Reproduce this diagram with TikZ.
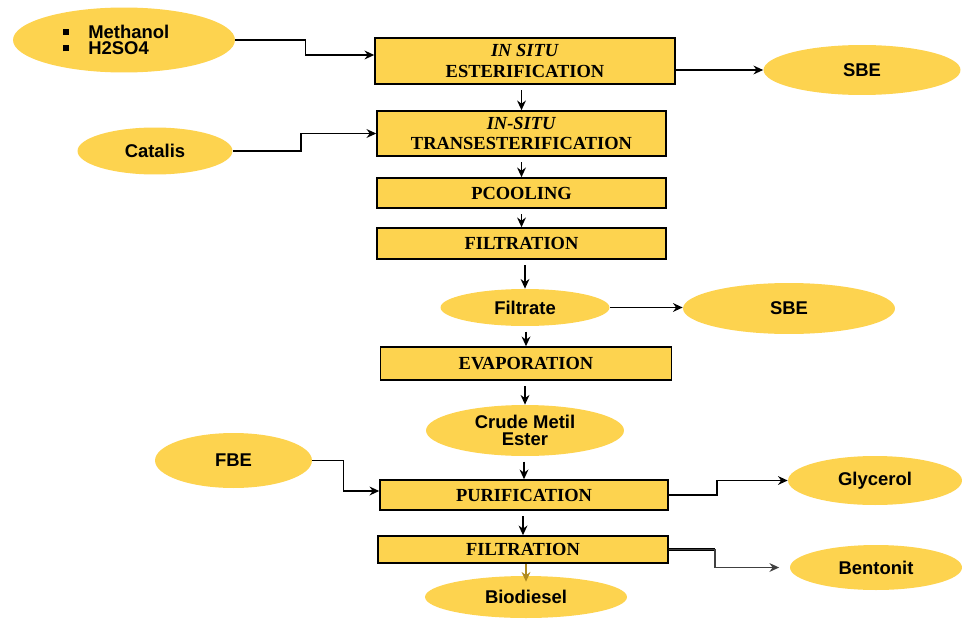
\documentclass[tikz,border=0pt]{standalone}
\usepackage{fontspec}
\setmainfont{Liberation Serif}
\newfontfamily\arialfont{Liberation Sans}
\usetikzlibrary{calc, arrows.meta, shapes.geometric}
\definecolor{flowyellow}{HTML}{FDD34F}
\definecolor{tipgold}{HTML}{B08A1E}
\tikzset{
	line width = .9pt,
	>={Stealth[length=5.5pt,width=5pt]},
	process/.style={
		draw,
		rectangle,
		fill=flowyellow,
		line width=.9pt,
		inner sep=0pt,
		align=center,
		font=\fontsize{10.5}{11.5}\selectfont\bfseries
	},
	stream/.style={
		ellipse,
		fill=flowyellow,
		inner sep=0pt,
		align=center,
		font=\arialfont\fontsize{10.5}{10}\selectfont\bfseries
	},
	flow/.style={
		->,
		line width=.9pt
	},
	heavy flow/.style={
		->,
		line width=1.4pt
	}
}

\begin{document}
\begin{tikzpicture}[x=0.02cm, y=-0.02cm]
\useasboundingbox (0,0) rectangle (962,618);

% ---
% Main line
% ---
\node[process, minimum width=6cm, minimum height=.92cm] (ester) at (525,61) {\textit{IN SITU}\\ESTERIFICATION};
\node[process, minimum width=5.78cm, minimum height=.9cm] (trans) at (521.5,133.5) {\textit{IN-SITU}\\TRANSESTERIFICATION};
\node[process, minimum width=5.78cm, minimum height=.6cm] (cool) at (521.5,193) {PCOOLING};
\node[process, minimum width=5.78cm, minimum height=.62cm] (filt1) at (521.5,243.5) {FILTRATION};
\node[stream, minimum width=3.38cm, minimum height=.74cm] (filtrate) at (525,307.5) {Filtrate};
\node[process, minimum width=5.82cm, minimum height=.66cm] (evap) at (526,363.5) {EVAPORATION};
\node[stream, minimum width=3.96cm, minimum height=1.02cm] (crude) at (525,430.5) {Crude Metil\\Ester};
\node[process, minimum width=5.76cm, minimum height=.6cm] (puri) at (524,495) {PURIFICATION};
\node[process, minimum width=5.8cm, minimum height=.54cm] (filt2) at (523,549.5) {FILTRATION};
\node[stream, minimum width=4.04cm, minimum height=.84cm] (bio) at (526,597) {Biodiesel};

% ---
% Inputs and outputs
% ---
\node[stream, align=left, minimum width=4.44cm, minimum height=1.3cm] (meoh) at (124,40) {\rule[2pt]{3.5pt}{3.5pt}\hspace{11pt}Methanol\rule{9pt}{0pt}\\[-.5pt]\rule[2pt]{3.5pt}{3.5pt}\hspace{11pt}H2SO4};
\node[stream, minimum width=3.94cm, minimum height=1cm] (sbe1) at (862,70) {SBE};
\node[stream, minimum width=3.1cm, minimum height=.94cm] (catalis) at (155,151) {Catalis};
\node[stream, minimum width=4.24cm, minimum height=1.02cm] (sbe2) at (789,308.5) {SBE};
\node[stream, minimum width=3.14cm, minimum height=1.1cm] (fbe) at (233.5,460.5) {FBE};
\node[stream, minimum width=3.48cm, minimum height=.98cm] (glyc) at (875,480.5) {Glycerol};
\node[stream, minimum width=3.44cm, minimum height=.9cm] (bent) at (876,567.5) {Bentonit};

% ---
% Transitions
% ---
\foreach \a/\b in {ester/trans, trans/cool, cool/filt1, filt1/filtrate, filtrate/evap, evap/crude, crude/puri, puri/filt2} {
	\draw[flow, shorten <=3pt] (\a.south -| \b.north) -- (\b.north);
}
\draw[flow, tipgold] (filt2.south -| bio.north) -- ($(bio.north)+(0,6)$);

\draw[flow] (meoh.east) -- ++(70,0) |- ($(ester.west)+(0,-6)$);
\draw[flow] (catalis.east) -- ++(68,0) |- (trans.west);
\draw[flow] (fbe.east) -- ++(31,0) |- ($(puri.west)+(0,-4)$);
\draw[heavy flow] (sbe1.west -| ester.east) -- (sbe1.west);
\draw[flow] (filtrate.east) -- (filtrate.east -| sbe2.west);
\draw[flow] (puri.east) -- ++(48,0) |- (glyc.west);
\draw[line width=1.6pt] (filt2.east) -- ++(46,0);
\draw[flow, black!75, shorten >=6pt] (filt2.east) -- ++(46,0) |- (bent.west);
\end{tikzpicture}
\end{document}
